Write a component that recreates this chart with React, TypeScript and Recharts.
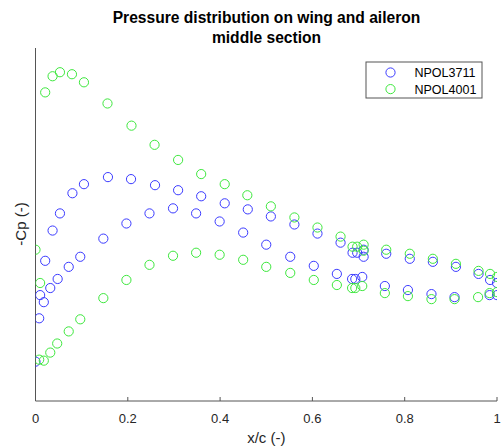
import { Scatter, ScatterChart, XAxis, YAxis } from "recharts";

// NPOL3711 – suction side then pressure side
const npol3711UpperX = [0, 0.008, 0.021, 0.037, 0.053, 0.08, 0.105, 0.157, 0.207, 0.259, 0.309, 0.359, 0.41, 0.46, 0.51, 0.561, 0.611, 0.661, 0.687, 0.697, 0.711, 0.711, 0.76, 0.811, 0.861, 0.911, 0.96, 0.985, 1.0];
const npol3711UpperCp = [-1.11, -0.68, -0.11, 0.19, 0.36, 0.56, 0.65, 0.72, 0.7, 0.64, 0.59, 0.53, 0.46, 0.4, 0.33, 0.25, 0.16, 0.07, -0.03, -0.03, 0.0, -0.07, -0.04, -0.09, -0.12, -0.17, -0.24, -0.3, -0.33];
const npol3711LowerX = [0.01, 0.018, 0.032, 0.048, 0.072, 0.097, 0.147, 0.197, 0.247, 0.298, 0.348, 0.399, 0.45, 0.5, 0.552, 0.603, 0.653, 0.686, 0.693, 0.708, 0.757, 0.807, 0.858, 0.908, 0.984, 1.0];
const npol3711LowerCp = [-0.45, -0.52, -0.38, -0.29, -0.17, -0.07, 0.11, 0.26, 0.36, 0.41, 0.36, 0.28, 0.17, 0.05, -0.07, -0.16, -0.24, -0.29, -0.29, -0.27, -0.36, -0.4, -0.44, -0.47, -0.45, -0.45];

// NPOL4001
const npol4001UpperX = [0, 0.01, 0.021, 0.037, 0.053, 0.079, 0.105, 0.156, 0.208, 0.258, 0.309, 0.359, 0.41, 0.459, 0.51, 0.561, 0.611, 0.661, 0.687, 0.697, 0.711, 0.711, 0.76, 0.811, 0.861, 0.911, 0.96, 0.985, 1.0];
const npol4001UpperCp = [0.0, -0.33, 1.56, 1.72, 1.76, 1.74, 1.66, 1.45, 1.23, 1.04, 0.89, 0.75, 0.65, 0.54, 0.43, 0.32, 0.22, 0.13, 0.03, 0.03, 0.05, -0.01, 0.0, -0.04, -0.09, -0.14, -0.21, -0.24, -0.27];
const npol4001LowerX = [0.008, 0.018, 0.032, 0.047, 0.072, 0.097, 0.147, 0.197, 0.247, 0.298, 0.348, 0.399, 0.45, 0.5, 0.552, 0.603, 0.653, 0.686, 0.693, 0.708, 0.757, 0.807, 0.858, 0.908, 0.959, 0.984, 1.0];
const npol4001LowerCp = [-1.09, -1.1, -1.02, -0.93, -0.81, -0.69, -0.48, -0.3, -0.15, -0.06, -0.03, -0.05, -0.1, -0.17, -0.23, -0.3, -0.35, -0.38, -0.38, -0.36, -0.43, -0.46, -0.49, -0.49, -0.47, -0.43, -0.42];

const xTicks = [0, 0.2, 0.4, 0.6, 0.8, 1];

const FONT = '"Liberation Sans", Arial, Helvetica, sans-serif';
const BLUE = "#3b3bff";
const GREEN = "#3ee83e";

const zip = (xs: number[], ys: number[]) => xs.map((x, i) => ({ x, y: ys[i] }));

const series = [
  { name: "NPOL3711", color: BLUE, data: [...zip(npol3711UpperX, npol3711UpperCp), ...zip(npol3711LowerX, npol3711LowerCp)] },
  { name: "NPOL4001", color: GREEN, data: [...zip(npol4001UpperX, npol4001UpperCp), ...zip(npol4001LowerX, npol4001LowerCp)] },
];

const ring = (color: string) => (p: any) =>
  <circle cx={p.cx} cy={p.cy} r={4.6} fill="none" stroke={color} strokeWidth={1} />;

// legend box drawn in the svg so it doesn't eat plot space
function LegendBox({ x, y }: { x: number; y: number }) {
  return (
    <g>
      <rect x={x + 0.5} y={y + 0.5} width={116} height={36} fill="#fff" stroke="#555" strokeWidth={1} />
      {series.map((s, i) => (
        <g key={s.name}>
          <circle cx={x + 25} cy={y + 11 + i * 16.6} r={4.6} fill="none" stroke={s.color} strokeWidth={1} />
          <text x={x + 49} y={y + 15.5 + i * 16.6} fontFamily={FONT} fontSize={12.5} fill="#000">
            {s.name}
          </text>
        </g>
      ))}
    </g>
  );
}

export default function App() {
  return (
    <div style={{ position: "absolute", left: 0, top: 0, width: 502, height: 446, background: "#fff" }}>
      <ScatterChart width={502} height={446} margin={{ top: 48, right: 5, bottom: 0, left: 0 }}>
        <text x={266.5} y={23} textAnchor="middle" fontFamily={FONT} fontSize={15.6} fontWeight="bold" fill="#000">
          Pressure distribution on wing and aileron
        </text>
        <text x={266.5} y={42.5} textAnchor="middle" fontFamily={FONT} fontSize={15.6} fontWeight="bold" fill="#000">
          middle section
        </text>
        <XAxis
          type="number"
          dataKey="x"
          domain={[0, 1]}
          ticks={xTicks}
          allowDataOverflow
          height={45}
          stroke="#555"
          tickSize={-4}
          tickMargin={17}
          tick={{ fontSize: 13, fill: "#262626", fontFamily: FONT }}
          tickFormatter={(v) => `${v}`}
          label={{
            content: () => (
              <text x={266.3} y={443} textAnchor="middle" fontFamily={FONT} fontSize={15} fill="#262626">
                x/c (-)
              </text>
            ),
          }}
        />
        <YAxis
          type="number"
          dataKey="y"
          domain={[-1.5, 2]}
          allowDataOverflow
          width={35.5}
          stroke="#555"
          tick={false}
          tickLine={false}
          label={{
            content: () => (
              <text x={26} y={224} transform="rotate(-90 26 224)" textAnchor="middle" fontFamily={FONT} fontSize={15} fill="#262626">
                -Cp (-)
              </text>
            ),
          }}
        />
        {series.map((s) => (
          <Scatter key={s.name} name={s.name} data={s.data} shape={ring(s.color)} isAnimationActive={false} />
        ))}
        <LegendBox x={365.5} y={61.5} />
      </ScatterChart>
    </div>
  );
}
